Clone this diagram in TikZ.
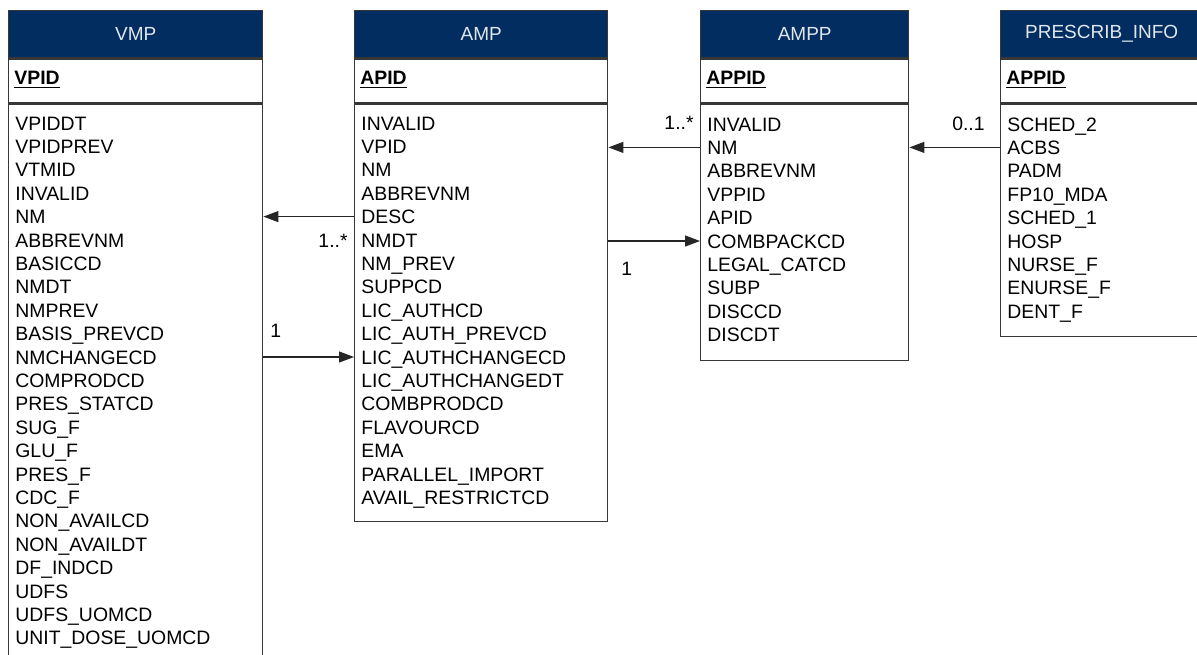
\documentclass[tikz,border=0pt]{standalone}
\usepackage{fontspec}
\setmainfont{Liberation Sans}
\usetikzlibrary{arrows.meta, positioning, calc}

\definecolor{navy}{RGB}{2,45,96}
\definecolor{rim}{RGB}{55,55,55}

\tikzset{
  tabhead/.style={draw=rim, line width=0.7pt, fill=navy, text=white!88!navy,
    anchor=north west, inner sep=0pt, minimum height=23.5pt,
    font=\fontsize{9.5}{11}\selectfont},
  tabkey/.style={draw=rim, line width=0.7pt, fill=white, anchor=north west,
    inner sep=0pt, minimum height=22pt},
  tabbody/.style={draw=rim, line width=0.7pt, fill=white, anchor=north west,
    inner sep=0pt},
  keytext/.style={anchor=west, inner sep=0pt, font=\fontsize{9.7}{11}\selectfont},
  field/.style={anchor=west, inner sep=0pt, text height=7pt, text depth=0pt,
    font=\fontsize{9.7}{11}\selectfont},
  mult/.style={inner sep=0pt, text height=7pt, text depth=0pt,
    font=\fontsize{9.7}{11}\selectfont},
  link/.style={draw=black!85, line width=0.6pt, -{Triangle[length=7.5pt,width=5.5pt]}}
}

\begin{document}
\begin{tikzpicture}[x=0.5pt, y=-0.5pt]
    \useasboundingbox (0,0) rectangle (1197,654);
    \clip (0,0) rectangle (1197,654);
    \fill[white] (0,0) rectangle (1197,654);

    % VMP
    \node[tabhead, minimum width=127pt] (vmphead) at (8,10) {VMP};
    \node[tabkey, minimum width=127pt] (vmpkey) at (vmphead.south west) {};
    \node[keytext] (vmpid) at (14,80) {\underline{\textbf{VPID}}};
    \node[tabbody, minimum width=127pt, minimum height=300pt] (vmp) at (vmpkey.south west) {};
    \foreach \f [count=\i from 0] in {VPIDDT, VPIDPREV, VTMID, INVALID, NM, ABBREVNM,
        BASICCD, NMDT, NMPREV, BASIS\_PREVCD, NMCHANGECD, COMPRODCD, PRES\_STATCD,
        SUG\_F, GLU\_F, PRES\_F, CDC\_F, NON\_AVAILCD, NON\_AVAILDT, DF\_INDCD, UDFS,
        UDFS\_UOMCD, UNIT\_DOSE\_UOMCD}
        \node[field] (vmpf\i) at (15,{123+23.4*\i}) {\f};

    % AMP
    \node[tabhead, minimum width=126.5pt] (amphead) at (354,10) {AMP};
    \node[tabkey, minimum width=126.5pt] (ampkey) at (amphead.south west) {};
    \node[keytext] (ampid) at (360,80) {\underline{\textbf{APID}}};
    \node[tabbody, minimum width=126.5pt, minimum height=208.5pt] (amp) at (ampkey.south west) {};
    \foreach \f [count=\i from 0] in {INVALID, VPID, NM, ABBREVNM, DESC, NMDT, NM\_PREV,
        SUPPCD, LIC\_AUTHCD, LIC\_AUTH\_PREVCD, LIC\_AUTHCHANGECD, LIC\_AUTHCHANGEDT,
        COMBPRODCD, FLAVOURCD, EMA, PARALLEL\_IMPORT, AVAIL\_RESTRICTCD}
        \node[field] (ampf\i) at (361,{123+23.4*\i}) {\f};

    % AMPP
    \node[tabhead, minimum width=104pt] (amppehead) at (700,10) {AMPP};
    \node[tabkey, minimum width=104pt] (amppkey) at (amppehead.south west) {};
    \node[keytext] (amppid) at (706,80) {\underline{\textbf{APPID}}};
    \node[tabbody, minimum width=104pt, minimum height=128pt] (ampp) at (amppkey.south west) {};
    \foreach \f [count=\i from 0] in {INVALID, NM, ABBREVNM, VPPID, APID, COMBPACKCD,
        LEGAL\_CATCD, SUBP, DISCCD, DISCDT}
        \node[field] (amppf\i) at (707,{124+23.4*\i}) {\f};

    % PRESCRIB_INFO
    \node[tabhead, minimum width=101pt] (preschead) at (1000,10) {PRESCRIB\_INFO};
    \node[tabkey, minimum width=101pt] (presckey) at (preschead.south west) {};
    \node[keytext] (prescid) at (1006,80) {\underline{\textbf{APPID}}};
    \node[tabbody, minimum width=101pt, minimum height=116pt] (presc) at (presckey.south west) {};
    \foreach \f [count=\i from 0] in {SCHED\_2, ACBS, PADM, FP10\_MDA, SCHED\_1, HOSP,
        NURSE\_F, ENURSE\_F, DENT\_F}
        \node[field] (prescf\i) at (1007,{124+23.4*\i}) {\f};

    % Links
    \draw[link] (ampf4 -| amp.west) -- (ampf4 -| vmp.east);
    \node[mult, anchor=east] (m1) at (348,240) {1..*};
    \draw[link] (ampf10 -| vmp.east) -- (ampf10 -| amp.west);
    \node[mult, anchor=west] (m2) at (270,330) {1};

    \draw[link] (amppf1 -| ampp.west) -- (amppf1 -| amp.east);
    \node[mult, anchor=east] (m3) at (694,122) {1..*};
    \draw[link] (amppf5 -| amp.east) -- (amppf5 -| ampp.west);
    \node[mult, anchor=west] (m4) at (621,268) {1};

    \draw[link] (prescf1 -| presc.west) -- (prescf1 -| ampp.east);
    \node[mult, anchor=east] (m5) at (985,123) {0..1};
\end{tikzpicture}
\end{document}
